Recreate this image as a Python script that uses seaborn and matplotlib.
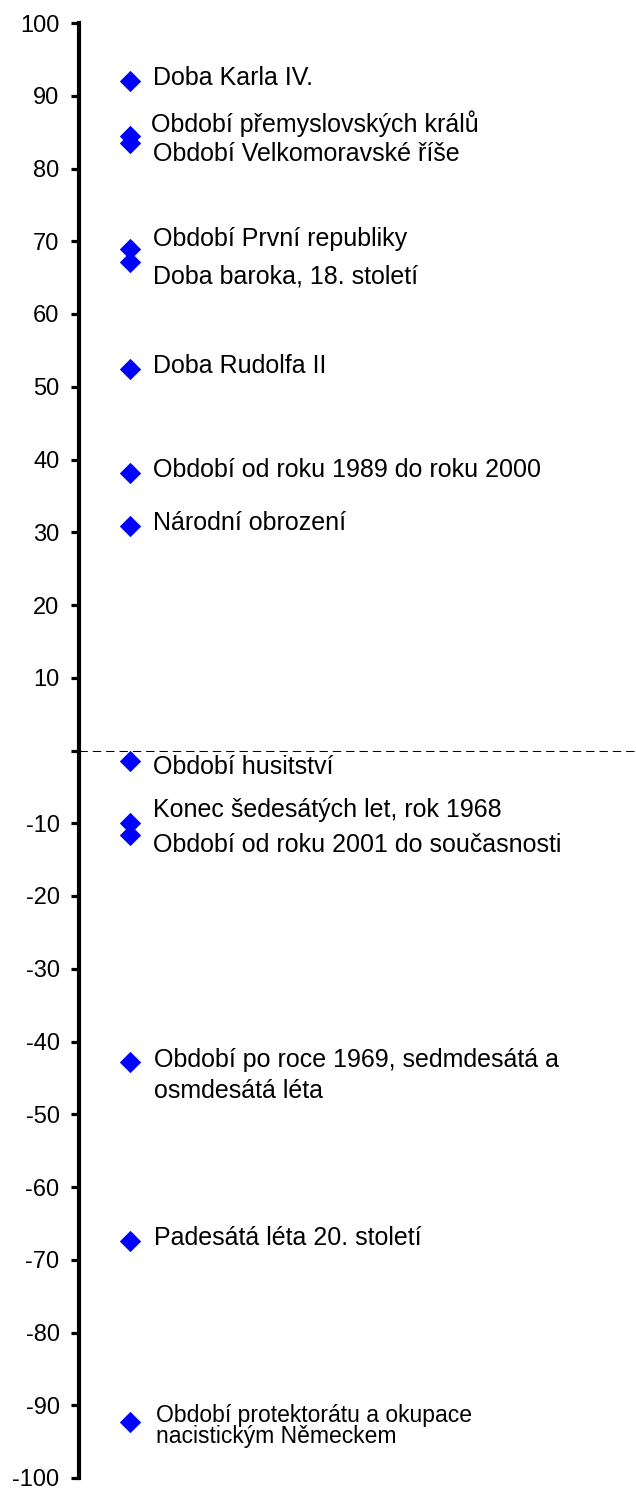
import numpy as np
import pandas as pd
import matplotlib
matplotlib.use("Agg")
import matplotlib.pyplot as plt
import seaborn as sns

# periods and their scores
periods = [
    "Doba Karla IV.",
    "Období přemyslovských králů",
    "Období Velkomoravské říše",
    "Období První republiky",
    "Doba baroka, 18. století",
    "Doba Rudolfa II",
    "Období od roku 1989 do roku 2000",
    "Národní obrození",
    "Období husitství",
    "Konec šedesátých let, rok 1968",
    "Období od roku 2001 do současnosti",
    "Období po roce 1969, sedmdesátá a\nosmdesátá léta",
    "Padesátá léta 20. století",
    "Období protektorátu a okupace\nnacistickým Německem",
]
scores = [92.0, 84.5, 83.5, 69.0, 67.2, 52.4, 38.1, 30.8, -1.5, -10.0, -11.6, -42.8, -67.4, -92.3]
yticks = list(range(-100, 101, 10))
ytick_labels = ["" if t == 0 else str(t) for t in yticks]

# label offsets from the marker (points, baseline of last line) - layout only
label_dx = [16.8, 15.4, 16.5, 16.5, 16.8, 16.8, 16.5, 16.8, 16.5, 16.8, 16.5, 17.0, 17.0, 19.0]
label_dy = [-2.4, 2.4, -13.2, 1.7, -15.6, -2.9, -2.4, -2.4, -8.9, 4.5, -12.0, -26.1, -2.9, -15.1]
label_fs = [18] * 13 + [16.5]
label_ls = [1.0] * 11 + [1.35, 1.0, 0.9]

df = pd.DataFrame({"period": periods, "score": scores, "col": 0})

sns.set_style("white")
plt.rcParams["font.family"] = ["Liberation Sans", "DejaVu Sans"]

fig = plt.figure(figsize=(6.36, 14.88), dpi=100)
ax = fig.add_axes([79 / 636, 10 / 1488, 557 / 636, 1455 / 1488])

sns.scatterplot(data=df, x="col", y="score", marker="D", color="#0000FF",
                s=118, linewidth=0, ax=ax, zorder=3, clip_on=False)

ax.axhline(0, color="black", lw=0.75, ls=(0, (8, 4.8)), zorder=1)

for i, row in df.iterrows():
    ax.annotate(row["period"], (row["col"], row["score"]),
                xytext=(label_dx[i], label_dy[i]), textcoords="offset points",
                ha="left", va="baseline", fontsize=label_fs[i],
                linespacing=label_ls[i], color="black")

ax.set_xlim(-1, 9.92)
ax.set_ylim(-100, 100)
ax.set_yticks(yticks)
ax.set_yticklabels(ytick_labels, fontsize=17)
ax.set_xticks([])
ax.set_xlabel("")
ax.set_ylabel("")
for side in ["top", "right", "bottom"]:
    ax.spines[side].set_visible(False)
ax.spines["left"].set_linewidth(3)
ax.spines["left"].set_color("black")
ax.tick_params(axis="y", direction="out", length=5.5, width=2.3, pad=8.5, colors="black", left=True)
ax.patch.set_alpha(0)

fig.savefig("out.png", dpi=100)
